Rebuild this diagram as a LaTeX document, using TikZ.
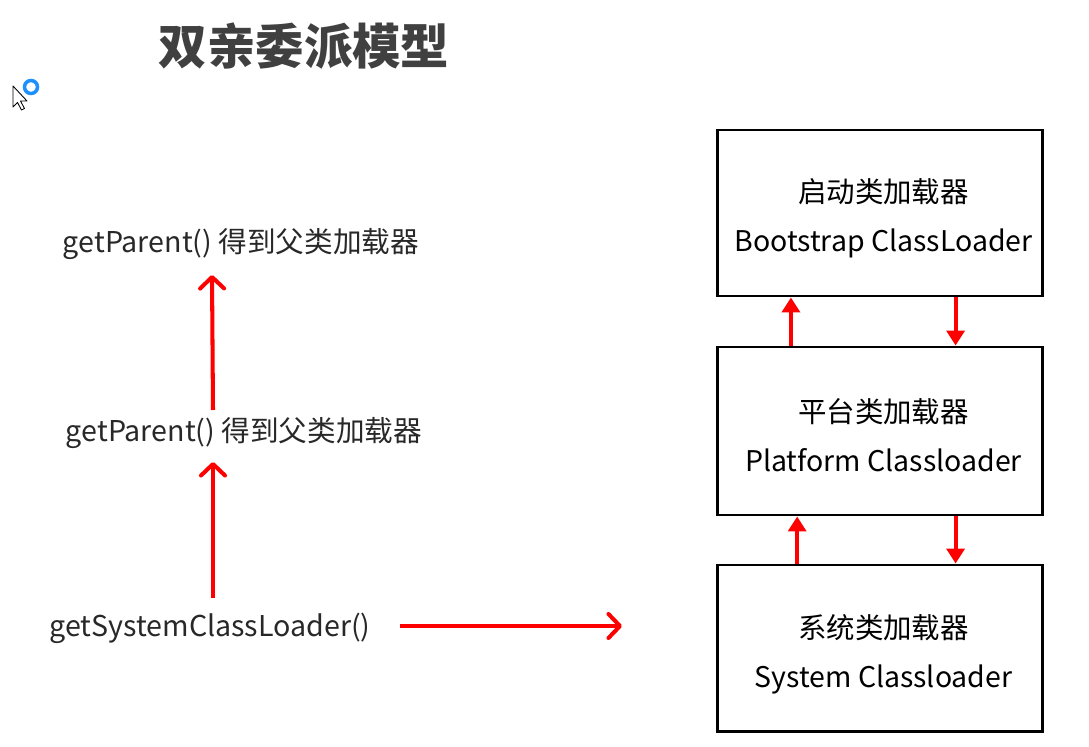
\documentclass[tikz,border=0pt]{standalone}
\usepackage{fontspec}
\setmainfont{Noto Sans CJK SC}
\usetikzlibrary{arrows.meta,calc}
\definecolor{titlegray}{RGB}{64,64,64}
\definecolor{labelgray}{RGB}{40,40,40}
\definecolor{cursorblue}{RGB}{30,144,255}
\tikzset{
  loaderbox/.style={draw=black,line width=1.7pt,minimum width=325*0.02cm,
    minimum height=166*0.02cm,inner sep=0pt},
  loadertext/.style={align=center,font=\fontsize{16.2}{27.8}\selectfont,inner sep=0pt},
  calllabel/.style={text=labelgray,font=\fontsize{16.3}{18}\selectfont,inner sep=0pt},
  chainarr/.style={red,line width=2.3pt,-{Straight Barb[round,length=2.3mm,width=4.8mm]}},
  linkarr/.style={red,line width=2.3pt,-{Triangle[length=3mm,width=3.6mm]}}
}

\begin{document}
\begin{tikzpicture}[x=0.02cm,y=-0.02cm]
        \useasboundingbox (0,0) rectangle (1089,747);
        % title and screen cursor
        \node[text=titlegray,font=\fontsize{27.6}{30}\selectfont\bfseries,inner sep=0pt]
              (title) at (304,46) {双亲委派模型};
        \draw[black,fill=white,line width=0.5pt,line join=round]
              (13,86) -- (13,107) -- (17.5,102.5) -- (21.5,110) -- (24.5,108.5) -- (20.5,101) -- (27,101) -- cycle;
        \draw[cursorblue,line width=2pt] (31,87) circle (6.5);
        % left: the calls
        \node[calllabel] (getp1) at (241,244) {getParent() 得到父类加载器};
        \node[calllabel] (getp2) at (244,433) {getParent() 得到父类加载器};
        \node[calllabel] (sysl) at (210,628) {getSystemClassLoader()};
        \draw[chainarr] ($(getp2)+(-31,-23)$) -- ($(getp1)+(-29,31)$);
        \draw[chainarr] ($(sysl)+(3,-30)$) -- ($(getp2)+(-31,29)$);
        \draw[chainarr] ($(sysl)+(190,-2)$) -- ($(sysl)+(412,-2)$);
        % right: the loaders
        \node[loaderbox] (boot) at (879.5,213) {};
        \node[loaderbox,minimum height=168*0.02cm] (plat) at (879.5,431) {};
        \node[loaderbox] (sys) at (879.5,648) {};
        \node[loadertext] (bootname) at ($(boot)+(4,5)$) {启动类加载器\\Bootstrap ClassLoader};
        \node[loadertext] (platname) at ($(plat)+(4,4)$) {平台类加载器\\Platform Classloader};
        \node[loadertext] (sysname) at ($(sys)+(4,6)$) {系统类加载器\\System Classloader};
        \draw[linkarr] ($(plat.north west)!0.23!(plat.north east)$) -- ($(boot.south west)!0.23!(boot.south east)$);
        \draw[linkarr] ($(boot.south west)!0.732!(boot.south east)$) -- ($(plat.north west)!0.732!(plat.north east)$);
        \draw[linkarr] ($(sys.north west)!0.249!(sys.north east)$) -- ($(plat.south west)!0.249!(plat.south east)$);
        \draw[linkarr] ($(plat.south west)!0.732!(plat.south east)$) -- ($(sys.north west)!0.732!(sys.north east)$);
      \end{tikzpicture}
\end{document}
